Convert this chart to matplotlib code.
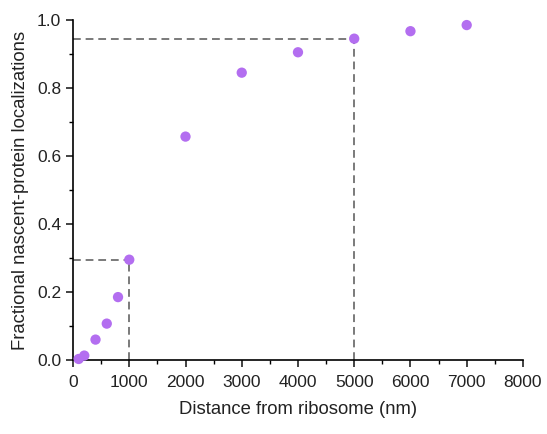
import matplotlib
matplotlib.use("Agg")
import matplotlib.pyplot as plt
from matplotlib.ticker import MultipleLocator

plt.rcParams['font.family'] = ['Liberation Sans', 'DejaVu Sans']

distance = [100, 200, 400, 600, 800, 1000, 2000, 3000, 4000, 5000, 6000, 7000]
fraction = [0.003, 0.013, 0.06, 0.107, 0.185, 0.295, 0.657, 0.845, 0.905, 0.945, 0.967, 0.985]
guide_x = [1000, 5000]
guide_y = [0.295, 0.945]

fig = plt.figure(figsize=(5.47, 4.34), dpi=100)
ax = fig.add_axes([0.1335, 0.1705, 0.8225, 0.7835])

for gx, gy in zip(guide_x, guide_y):
    ax.plot([0, gx], [gy, gy], ls=(0, (4, 2.5)), color='#7a7a7a', lw=1.4, zorder=1)
    ax.plot([gx, gx], [0, gy], ls=(0, (4, 2.5)), color='#7a7a7a', lw=1.4, zorder=1)

ax.scatter(distance, fraction, s=55, color='#b36ef0', edgecolors='none', zorder=3, clip_on=False)

ax.set_xlim(0, 8000)
ax.set_ylim(0, 1.0)
ax.xaxis.set_major_locator(MultipleLocator(1000))
ax.xaxis.set_minor_locator(MultipleLocator(500))
ax.yaxis.set_major_locator(MultipleLocator(0.2))
ax.yaxis.set_minor_locator(MultipleLocator(0.1))
ax.yaxis.set_major_formatter(matplotlib.ticker.FormatStrFormatter('%.1f'))

for s in ['top', 'right']:
    ax.spines[s].set_visible(False)
for s in ['left', 'bottom']:
    ax.spines[s].set_linewidth(1.2)

ax.tick_params(which='major', direction='out', length=5, width=1.2, labelsize=12.5, colors='#222222')
ax.tick_params(axis='x', which='major', pad=5.5)
ax.tick_params(which='minor', direction='out', length=3, width=1.0)

ax.set_xlabel('Distance from ribosome (nm)', fontsize=13.3, color='#222222', labelpad=8)
ax.set_ylabel('Fractional nascent-protein localizations', fontsize=13.3, color='#222222', labelpad=6)

fig.savefig('out.png', dpi=100)
